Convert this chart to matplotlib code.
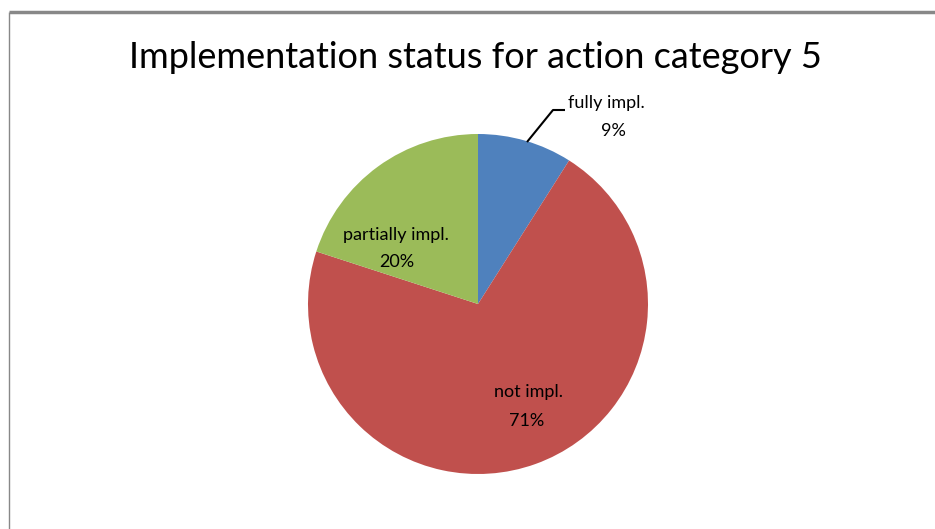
import matplotlib
matplotlib.use("Agg")
import matplotlib.pyplot as plt

plt.rcParams['font.family'] = ['Lato', 'DejaVu Sans']

labels = ['fully impl.', 'not impl.', 'partially impl.']
shares = [9, 71, 20]
colors = ['#4F81BD', '#C0504D', '#9BBB59']

W, H = 935, 529
fig = plt.figure(figsize=(W / 100, H / 100), dpi=100)
ax = fig.add_axes([0, 0, 1, 1])

# pie center / radius in pixels (y measured from top)
cx, cy, r = 478, 304, 170
ax.pie(shares, colors=colors, startangle=90, counterclock=False,
       center=(cx, H - cy), radius=r, frame=True,
       wedgeprops=dict(linewidth=0))
ax.set_xlim(0, W)
ax.set_ylim(0, H)
ax.set_aspect('equal')
ax.axis('off')

def px_text(x, y, s, **kw):
    ax.text(x, H - y, s, ha='center', va='center', color='#000000', **kw)

px_text(475, 57, 'Implementation status for action category 5', fontsize=26)

# fully impl. sits outside with a leader line
ax.plot([527, 553, 565], [H - 142, H - 110, H - 110], color='black', lw=1.5,
        solid_capstyle='butt')
label_pos = [((606, 103), (613, 131)),
             ((528, 392), (527, 421)),
             ((396, 235), (397, 262))]
for name, share, (p1, p2) in zip(labels, shares, label_pos):
    px_text(*p1, name, fontsize=13)
    px_text(*p2, f'{share}%', fontsize=13)

# chart border (top thick, left thin)
ax.plot([9, W], [H - 11.5, H - 11.5], color='#888888', lw=2.5, solid_capstyle='butt')
ax.plot([9, 9], [H - 11.5, 0], color='#888888', lw=1, solid_capstyle='butt')

fig.savefig('out.png', dpi=100)
